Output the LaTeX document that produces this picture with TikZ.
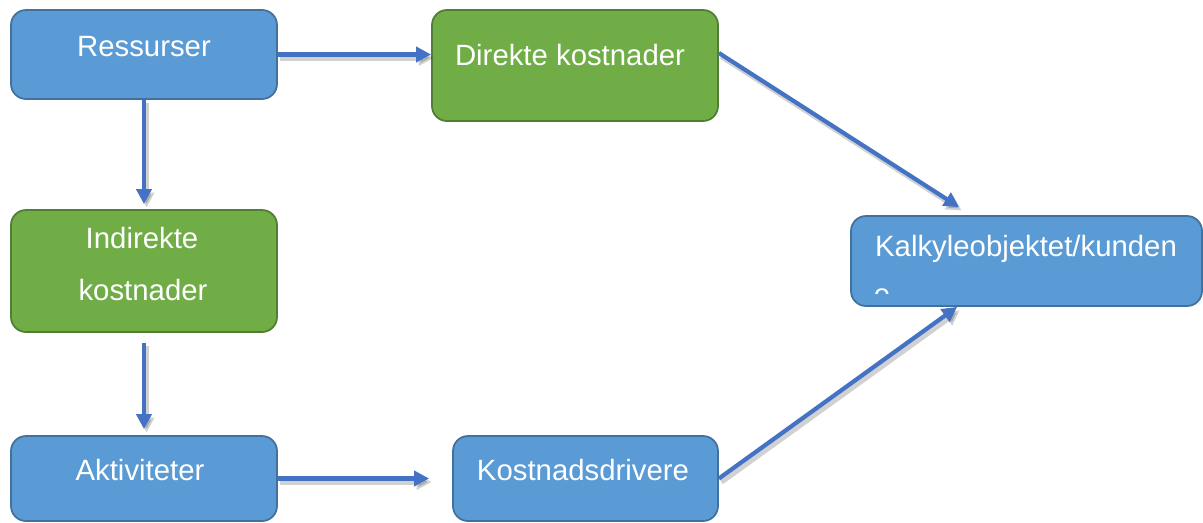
\documentclass[tikz,border=0pt]{standalone}
\usepackage{fontspec}
\setmainfont{Liberation Sans}
\usetikzlibrary{fit,calc,arrows.meta}

\definecolor{boxblue}{HTML}{5B9BD5}
\definecolor{boxblueline}{HTML}{41719C}
\definecolor{boxgreen}{HTML}{70AD47}
\definecolor{boxgreenline}{HTML}{507E32}
\definecolor{arrowblue}{HTML}{4472C4}

\tikzset{
    bluebox/.style={draw=boxblueline, fill=boxblue, line width=1pt, rounded corners=0.3cm, inner sep=0pt},
    greenbox/.style={draw=boxgreenline, fill=boxgreen, line width=1pt, rounded corners=0.3cm, inner sep=0pt},
    boxtext/.style={text=white, inner sep=0pt, anchor=base, font=\fontsize{16.7}{29.6}\selectfont},
    flowarrow/.style={draw=arrowblue, line width=2.4pt, -{Triangle[length=0.3cm,width=0.3cm]},
        preaction={draw=black, opacity=0.18, line width=3pt, transform canvas={shift={(0.05cm,-0.07cm)}}}}
}

\begin{document}
\begin{tikzpicture}[x=0.02cm, y=-0.02cm]
        \useasboundingbox (0,0) rectangle (1203,522);

        % boxes
        \node (ressurser) [bluebox, fit={(11,10) (277,99)}] {};
        \node (direkte) [greenbox, fit={(432,10) (718,121)}] {};
        \node (indirekte) [greenbox, fit={(11,210) (277,332)}] {};
        \node (kalkyle) [bluebox, fit={(851,216) (1202,306)}] {};
        \node (aktiviteter) [bluebox, fit={(11,436) (277,521)}] {};
        \node (kostnad) [bluebox, fit={(453,436) (718,521)}] {};

        % texts
        \node (ressurserT) at (144,56) [boxtext] {Ressurser};
        \node (direkteT) at (570,65) [boxtext] {Direkte kostnader};
        \node (indirekteT) at (142,248) [boxtext] {Indirekte};
        \node (indirekteT2) at (143,300) [boxtext] {kostnader};
        \node (kalkyleT) at (1026,256) [boxtext] {Kalkyleobjektet/kunden};
        \begin{scope}
            \clip (851,216) rectangle (1202,293);
            \node (kalkyleT2) at (882,304) [boxtext] {e};
        \end{scope}
        \node (aktiviteterT) at (140,480) [boxtext] {Aktiviteter};
        \node (kostnadT) at (583,480) [boxtext] {Kostnadsdrivere};

        % arrows
        \draw[flowarrow] (ressurser.east) -- (ressurser.east -| direkte.west);
        \draw[flowarrow, shorten >=0.1cm] (ressurser.south) -- (ressurser.south |- indirekte.north);
        \draw[flowarrow, shorten <=0.2cm, shorten >=0.12cm] (indirekte.south) -- (indirekte.south |- aktiviteter.north);
        \draw[flowarrow, shorten >=0.46cm] (aktiviteter.east) -- (aktiviteter.east -| kostnad.west);
        \draw[flowarrow] ([yshift=0.25cm]direkte.east) -- ($(kalkyle.north west)+(109,-8)$);
        \draw[flowarrow] (kostnad.east) -- ($(kalkyle.south west)+(107,0)$);
    \end{tikzpicture}
\end{document}
